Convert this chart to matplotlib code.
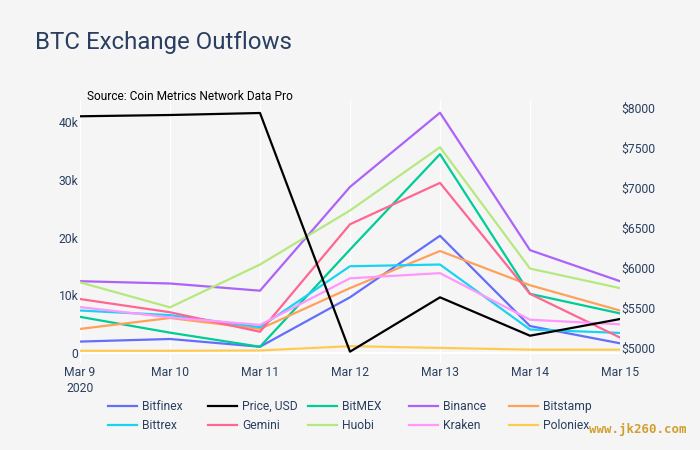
import matplotlib
matplotlib.use('Agg')
import matplotlib.pyplot as plt

plt.rcParams['font.family'] = ['Roboto', 'DejaVu Sans']

dates = ['Mar 9\n2020', 'Mar 10', 'Mar 11', 'Mar 12', 'Mar 13', 'Mar 14', 'Mar 15']
x = list(range(len(dates)))

# outflows, BTC
bitfinex = [1900, 2350, 1000, 9600, 20300, 4600, 1600]
bitmex = [6200, 3450, 1000, 17900, 34500, 10200, 6800]
binance = [12400, 12000, 10750, 28800, 41700, 17800, 12400]
bitstamp = [4100, 6000, 4100, 11200, 17650, 11700, 7300]
bittrex = [7300, 6500, 4400, 15000, 15300, 4000, 3400]
gemini = [9300, 7000, 3600, 22300, 29500, 10200, 2600]
huobi = [12200, 7850, 15300, 24700, 35700, 14600, 11200]
kraken = [7900, 6100, 4800, 12900, 13800, 5700, 4900]
poloniex = [300, 300, 350, 1100, 800, 500, 500]

price = [7900, 7916, 7941, 4950, 5631, 5150, 5359]

left_ticks = [0, 10000, 20000, 30000, 40000]
left_labels = ['0', '10k', '20k', '30k', '40k']
right_ticks = [5000, 5500, 6000, 6500, 7000, 7500, 8000]
right_labels = ['$5000', '$5500', '$6000', '$6500', '$7000', '$7500', '$8000']

text_color = '#2a3f5f'
bg = '#f5f5f5'
lw = 1.6

fig = plt.figure(figsize=(7, 4.5), dpi=100, facecolor=bg)
ax = fig.add_axes([80 / 700, 1 - 363 / 450, 540 / 700, 263 / 450], facecolor=bg)

l_bitfinex, = ax.plot(x, bitfinex, color='#636efa', lw=lw, label='Bitfinex')
l_bitmex, = ax.plot(x, bitmex, color='#00cc96', lw=lw, label='BitMEX')
l_binance, = ax.plot(x, binance, color='#ab63fa', lw=lw, label='Binance')
l_bitstamp, = ax.plot(x, bitstamp, color='#ffa15a', lw=lw, label='Bitstamp')
l_bittrex, = ax.plot(x, bittrex, color='#19d3f3', lw=lw, label='Bittrex')
l_gemini, = ax.plot(x, gemini, color='#ff6692', lw=lw, label='Gemini')
l_huobi, = ax.plot(x, huobi, color='#b6e880', lw=lw, label='Huobi')
l_kraken, = ax.plot(x, kraken, color='#ff97ff', lw=lw, label='Kraken')
l_poloniex, = ax.plot(x, poloniex, color='#fecb52', lw=lw, label='Poloniex')

ax.set_xlim(0, 6)
ax.set_ylim(-1826, 43913)
ax.set_xticks(x)
ax.set_xticklabels(dates, color=text_color, fontsize=8.7, linespacing=1.35)
ax.set_yticks(left_ticks)
ax.set_yticklabels(left_labels, color=text_color, fontsize=8.7)
ax.tick_params(axis='both', length=0)
ax.tick_params(axis='x', pad=2)
ax.tick_params(axis='y', pad=1)
ax.grid(axis='x', color='white', lw=1)
ax.axhline(0, color='white', lw=1.5, zorder=1)
for s in ax.spines.values():
    s.set_visible(False)

ax2 = ax.twinx()
l_price, = ax2.plot(x, price, color='black', lw=lw, label='Price, USD')
ax2.set_ylim(4808, 8104)
ax2.set_yticks(right_ticks)
ax2.set_yticklabels(right_labels, color=text_color, fontsize=8.7)
ax2.tick_params(axis='y', length=0, pad=1)
for s in ax2.spines.values():
    s.set_visible(False)

# columns in the reference are all the same width, so one legend per column
columns = [[l_bitfinex, l_bittrex], [l_price, l_gemini], [l_bitmex, l_huobi],
           [l_binance, l_kraken], [l_bitstamp, l_poloniex]]
for i, col in enumerate(columns):
    fig.legend(handles=col, loc='upper left',
               bbox_to_anchor=((108 + 100.2 * i) / 700, 1 - 400 / 450),
               frameon=False, fontsize=8.7, labelcolor=text_color,
               handlelength=2.4, handletextpad=0.42, labelspacing=0.5,
               borderpad=0, borderaxespad=0)

fig.text(35 / 700, 1 - 42 / 450, 'BTC Exchange Outflows', color=text_color,
         fontsize=17.3, va='center')
fig.text(87 / 700, 1 - 96 / 450, 'Source: Coin Metrics Network Data Pro',
         color='black', fontsize=8.6, va='center')
fig.text(589 / 700, 1 - 430 / 450, 'www.jk260.com', color='#d19f2f',
         fontsize=8.9, family='DejaVu Sans Mono', weight='bold', va='center')

fig.savefig('out.png', dpi=100, facecolor=bg)
